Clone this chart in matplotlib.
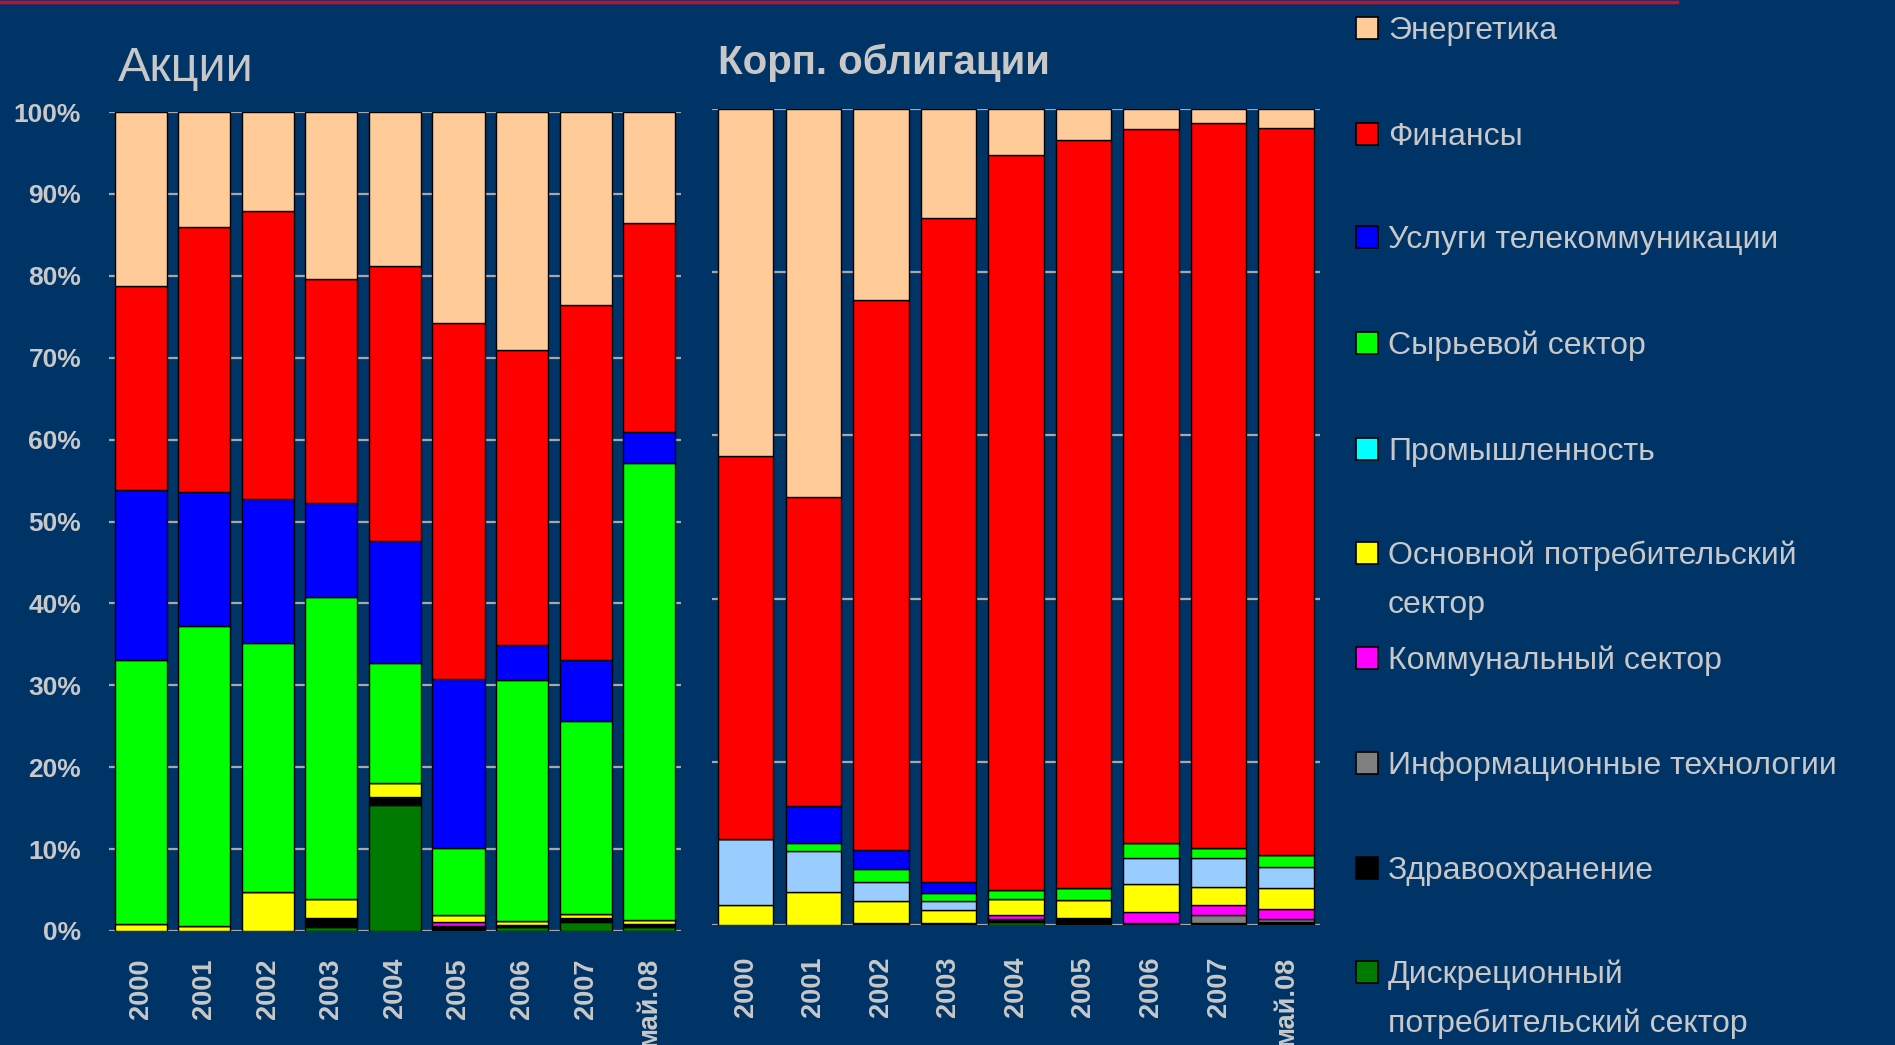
import matplotlib
matplotlib.use("Agg")
import matplotlib.pyplot as plt
from matplotlib.lines import Line2D
from matplotlib.patches import Rectangle
import numpy as np

years = ["2000", "2001", "2002", "2003", "2004", "2005", "2006", "2007", "май.08"]

# легенда сверху вниз
legend_labels = ["Энергетика", "Финансы", "Услуги телекоммуникации", "Сырьевой сектор",
                 "Промышленность", "Основной потребительский\nсектор", "Коммунальный сектор",
                 "Информационные технологии", "Здравоохранение",
                 "Дискреционный\nпотребительский сектор"]
legend_colors = ["#FFCC99", "#FF0000", "#0000FF", "#00FF00", "#00FFFF",
                 "#FFFF00", "#FF00FF", "#808080", "#000000", "#007A00"]

# Акции, % (по секторам, снизу вверх)
eq_discr   = [0, 0, 0, 0.5, 15.4, 0, 0.5, 1.1, 0.5]
eq_health  = [0, 0, 0, 1.1, 0.9, 0.6, 0.2, 0.5, 0.4]
eq_it      = [0, 0, 0, 0, 0, 0, 0, 0, 0]
eq_util    = [0, 0, 0, 0, 0, 0.5, 0, 0, 0]
eq_staples = [0.8, 0.6, 4.8, 2.3, 1.8, 0.85, 0.5, 0.5, 0.45]
eq_indust  = [0, 0, 0, 0, 0, 0, 0, 0, 0]
eq_mater   = [32.3, 36.6, 30.4, 36.9, 14.6, 8.15, 29.4, 23.6, 55.85]
eq_telecom = [20.7, 16.4, 17.5, 11.5, 14.9, 20.7, 4.3, 7.4, 3.7]
eq_fin     = [25.0, 32.4, 35.2, 27.3, 33.6, 43.4, 36.0, 43.3, 25.5]
eq_energy  = [21.2, 14.0, 12.1, 20.4, 18.8, 25.8, 29.1, 23.6, 13.6]

# Корп. облигации, %
bd_discr   = [0, 0, 0, 0, 0.4, 0, 0, 0, 0]
bd_health  = [0, 0, 0.3, 0.3, 0.3, 0.9, 0.3, 0.3, 0.4]
bd_it      = [0, 0, 0, 0, 0, 0, 0, 0.9, 0.3]
bd_util    = [0, 0, 0, 0, 0.5, 0, 1.3, 1.3, 1.3]
bd_staples = [2.5, 4.0, 2.7, 1.5, 1.95, 2.2, 3.4, 2.2, 2.5]
bd_indust  = [8.0, 5.1, 2.3, 1.1, 0, 0, 3.2, 3.5, 2.6]
bd_mater   = [0, 1.0, 1.6, 1.0, 1.15, 1.4, 1.9, 1.3, 1.5]
bd_telecom = [0, 4.5, 2.3, 1.4, 0, 0, 0, 0, 0]
bd_fin     = [47.0, 37.8, 67.4, 81.4, 90.1, 91.7, 87.4, 88.8, 89.1]
bd_energy  = [42.5, 47.6, 23.4, 13.3, 5.6, 3.8, 2.5, 1.7, 2.3]

BG = "#003366"
TXT = "#C8C8C8"
FONT = ["Liberation Sans", "DejaVu Sans"]

stack_colors = legend_colors[::-1]
bond_colors = list(stack_colors)
bond_colors[5] = "#99CCFF"  # промышленность в облигациях светло-голубая

eq_series = [eq_discr, eq_health, eq_it, eq_util, eq_staples, eq_indust,
             eq_mater, eq_telecom, eq_fin, eq_energy]
bd_series = [bd_discr, bd_health, bd_it, bd_util, bd_staples, bd_indust,
             bd_mater, bd_telecom, bd_fin, bd_energy]


def stacked(ax, series, colors, step, pad):
    x = np.arange(len(years))
    bottom = np.zeros(len(years))
    for vals, c in zip(series, colors):
        ax.bar(x, vals, 0.82, bottom=bottom, color=c, edgecolor="black", linewidth=1.0)
        bottom += np.array(vals)
    ax.set_xlim(-0.5, 8.5)
    ax.set_ylim(0, 100)
    ax.set_yticks(np.arange(0, 101, step))
    ax.set_facecolor("none")
    ax.set_axisbelow(True)
    ax.yaxis.grid(True, color="#A8A8A8", linewidth=1.6)
    for s in ax.spines.values():
        s.set_visible(False)
    ax.set_xticks(x)
    ax.set_xticklabels(years, rotation=90, color=TXT, fontsize=19.5,
                       fontweight="bold", family=FONT)
    ax.tick_params(length=0, axis="x", pad=pad)
    ax.tick_params(length=0, axis="y")


fig = plt.figure(figsize=(18.95, 10.45), dpi=100, facecolor=BG)

ax1 = fig.add_axes([0.0575, 0.1091, 0.3018, 0.7837])
stacked(ax1, eq_series, stack_colors, 10, 19.5)
ax1.set_yticklabels([f"{v}%" for v in range(0, 101, 10)], color=TXT,
                    fontsize=19, fontweight="bold", family=FONT)
ax1.tick_params(axis="y", pad=20)

ax2 = fig.add_axes([0.3757, 0.1148, 0.3208, 0.7809])
stacked(ax2, bd_series, bond_colors, 20, 23)
ax2.set_yticklabels([])

fig.text(118 / 1895, 1 - 81 / 1045, "Акции", color=TXT, fontsize=35,
         family=FONT, va="baseline")
fig.text(718 / 1895, 1 - 74 / 1045, "Корп. облигации", color=TXT, fontsize=29,
         fontweight="bold", family=FONT, va="baseline")

# красная линия сверху
fig.add_artist(Line2D([0, 1677 / 1895], [1 - 1.5 / 1045] * 2, color="#C8102E", lw=2.5))

# легенда
centers = [27.5, 134, 237, 343, 449, 553, 658, 763, 868, 972]
for lab, c, yc in zip(legend_labels, legend_colors, centers):
    fig.add_artist(Rectangle((1356 / 1895, 1 - (yc + 11) / 1045), 22 / 1895, 22 / 1045,
                             facecolor=c, edgecolor="black", lw=1.2,
                             transform=fig.transFigure))
    for i, line in enumerate(lab.split("\n")):
        fig.text(1388 / 1895, 1 - (yc + 11 + i * 49) / 1045, line, color=TXT,
                 fontsize=23, family=FONT, va="baseline")

fig.savefig("out.png", dpi=100, facecolor=BG)
